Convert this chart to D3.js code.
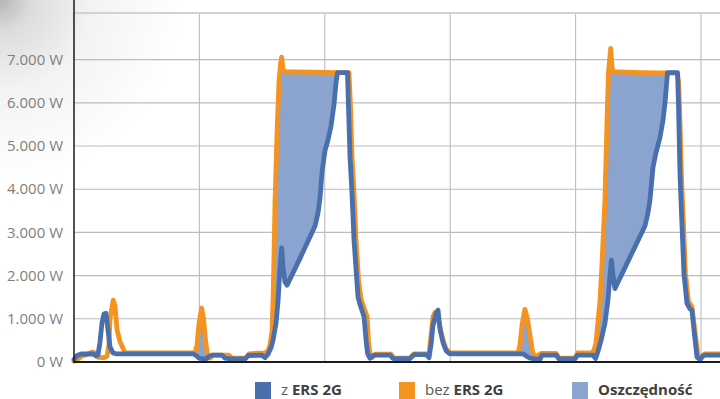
<!DOCTYPE html>
<html><head><meta charset="utf-8">
<script src="https://cdn.jsdelivr.net/npm/d3@7"></script>
<style>html,body{margin:0;padding:0;background:#fff;}svg{display:block;}</style>
</head><body>
<script>
// ---- data (time in grid units, power in W) ----
const blueT = [0.000,0.024,0.056,0.152,0.175,0.191,0.207,0.223,0.239,0.255,0.271,0.287,0.311,0.335,0.949,0.973,0.997,1.029,1.053,1.077,1.100,1.180,1.204,1.244,1.364,1.388,1.499,1.523,1.547,1.571,1.587,1.611,1.627,1.643,1.656,1.667,1.683,1.699,1.802,1.922,1.946,1.962,1.978,2.002,2.026,2.049,2.073,2.089,2.101,2.181,2.189,2.201,2.217,2.233,2.249,2.265,2.289,2.313,2.329,2.341,2.360,2.384,2.400,2.520,2.544,2.679,2.711,2.807,2.831,2.847,2.863,2.887,2.903,2.919,2.943,2.967,2.998,3.581,3.604,3.636,3.676,3.716,3.732,3.844,3.868,3.995,4.015,4.139,4.159,4.179,4.203,4.234,4.258,4.274,4.286,4.298,4.314,4.553,4.577,4.593,4.617,4.641,4.673,4.697,4.713,4.733,4.813,4.821,4.833,4.848,4.864,4.888,4.912,4.928,4.944,4.968,4.992,5.016,5.032,5.191];
const blueW = [60,150,185,190,140,170,450,900,1110,1130,750,350,210,190,190,150,90,70,70,130,160,160,90,70,70,150,160,100,180,330,500,900,1400,2200,2640,2200,1850,1780,2400,3150,3450,3800,4400,4900,5150,5450,5950,6450,6700,6700,5900,4750,3900,2820,2150,1500,1260,1050,500,200,85,140,160,160,80,80,170,170,100,400,850,1120,1200,750,450,260,190,190,140,90,70,60,160,160,70,70,160,160,80,250,500,900,1430,2000,2360,2000,1700,3150,3450,3750,4500,4850,5200,5600,6000,6700,6700,5900,4300,3200,2050,1360,1230,1200,740,115,50,140,160,160];

const orangeT = [0.000,0.032,0.056,0.088,0.128,0.152,0.175,0.191,0.239,0.263,0.279,0.287,0.313,0.327,0.343,0.367,0.391,0.407,0.965,0.981,0.997,1.018,1.033,1.049,1.065,1.085,1.108,1.236,1.260,1.372,1.396,1.523,1.547,1.563,1.579,1.589,1.603,1.619,1.635,1.647,1.656,1.667,1.683,2.081,2.193,2.205,2.217,2.233,2.249,2.269,2.289,2.313,2.337,2.348,2.360,2.376,2.400,2.528,2.552,2.679,2.711,2.815,2.831,2.847,2.863,2.879,2.895,2.919,2.943,2.967,2.998,3.541,3.557,3.573,3.596,3.616,3.636,3.656,3.676,3.700,3.724,3.844,3.868,3.995,4.015,4.131,4.147,4.163,4.195,4.211,4.234,4.250,4.262,4.280,4.290,4.298,4.514,4.809,4.821,4.829,4.844,4.860,4.876,4.900,4.928,4.952,4.976,4.992,5.016,5.032,5.191];
const orangeW = [20,60,130,160,210,230,200,110,100,130,400,1000,1430,1300,750,470,320,210,210,400,900,1250,1000,500,150,90,160,160,90,90,190,210,250,400,700,1600,3700,5300,6500,6900,7060,6780,6720,6700,6700,5900,4750,3900,2820,1900,1450,1250,1050,500,200,100,180,180,90,90,190,190,150,600,1050,1150,1100,800,500,300,210,210,400,860,1220,1000,620,250,100,150,200,200,90,90,210,210,280,450,1430,2300,3750,5500,6700,7260,6850,6720,6700,6690,6500,5900,4300,3200,2050,1400,1270,700,150,70,160,190,190];

// intervals where the savings ("Oszczędność") area is shown
const savingsRanges = [[0.94,1.09],[1.50,2.19],[3.53,3.67],[4.12,4.84]];

const yTicks = [0,1000,2000,3000,4000,5000,6000,7000];
const yLabels = ["0 W","1.000 W","2.000 W","3.000 W","4.000 W","5.000 W","6.000 W","7.000 W"];
const xGrid = [1,2,3,4,5];
const legendItems = [
  {pre:"z ", bold:"ERS 2G", color:"#4A6FAD"},
  {pre:"bez ", bold:"ERS 2G", color:"#F4931F"},
  {pre:"", bold:"Oszczędność", color:"#8AA3CF"}
];

// ---- layout ----
const W = 720, H = 399;
const m = {left:74, top:13, bottom:37};
const blueC = "#4A6FAD", orangeC = "#F4931F", fillC = "#8AA3CF";

const svg = d3.select("body").append("svg").attr("width",W).attr("height",H)
  .style("font-family","'Open Sans', sans-serif");

const defs = svg.append("defs");
const rg = defs.append("radialGradient").attr("id","bgcorner")
  .attr("cx",0).attr("cy",0).attr("r",260).attr("gradientUnits","userSpaceOnUse");
rg.append("stop").attr("offset",0).attr("stop-color","#b5b5b5");
rg.append("stop").attr("offset",0.12).attr("stop-color","#dcdcdc");
rg.append("stop").attr("offset",0.35).attr("stop-color","#f3f3f3");
rg.append("stop").attr("offset",0.7).attr("stop-color","#ffffff");
svg.append("rect").attr("width",W).attr("height",H).attr("fill","url(#bgcorner)");

const x = d3.scaleLinear().domain([0, (W - m.left)/125.4]).range([m.left, W]);
const y = d3.scaleLinear().domain([0, 8080]).range([H - m.bottom, m.top]);

// gridlines
const g = svg.append("g");
g.selectAll(".hg").data(yTicks.slice(1)).join("line")
  .attr("x1",m.left).attr("x2",W).attr("y1",d=>y(d)).attr("y2",d=>y(d))
  .attr("stroke","#bdbdbd").attr("stroke-width",1.1);
g.selectAll(".vg").data(xGrid).join("line")
  .attr("x1",d=>x(d)).attr("x2",d=>x(d)).attr("y1",y(8080)).attr("y2",y(0))
  .attr("stroke","#bdbdbd").attr("stroke-width",1.1);
g.append("line").attr("x1",m.left).attr("x2",W).attr("y1",y(8080)).attr("y2",y(8080))
  .attr("stroke","#d2d2d2").attr("stroke-width",2);

// y labels
svg.append("g").selectAll("text").data(yTicks).join("text")
  .attr("x",m.left-11).attr("y",d=>y(d)).attr("dy","0.35em")
  .attr("text-anchor","end").attr("font-size",15).attr("fill","#7f7f7f")
  .text((d,i)=>yLabels[i]);

// data series
const blue = blueT.map((t,i)=>({t, v:blueW[i]}));
const orange = orangeT.map((t,i)=>({t, v:orangeW[i]}));
function interp(series, t){
  const i = d3.bisector(d=>d.t).left(series, t);
  if (i<=0) return series[0].v;
  if (i>=series.length) return series[series.length-1].v;
  const a = series[i-1], b = series[i];
  if (b.t===a.t) return b.v;
  return a.v + (b.v-a.v)*(t-a.t)/(b.t-a.t);
}

// savings area
const area = d3.area().x(d=>x(d.t)).y0(d=>y(d.lo)).y1(d=>y(d.hi));
savingsRanges.forEach(([a,b])=>{
  const ts = Array.from(new Set([a,b,...blueT,...orangeT].filter(t=>t>=a&&t<=b))).sort((p,q)=>p-q);
  const pts = ts.map(t=>{const lo=interp(blue,t), o=interp(orange,t); return {t, lo, hi:Math.max(lo,o)};});
  svg.append("path").datum(pts).attr("d",area).attr("fill",fillC);
});

const line = d3.line().x(d=>x(d.t)).y(d=>y(d.v));
svg.append("path").datum(orange).attr("d",line).attr("fill","none")
  .attr("stroke",orangeC).attr("stroke-width",4.8).attr("stroke-linejoin","round").attr("stroke-linecap","round");
svg.append("path").datum(blue).attr("d",line).attr("fill","none")
  .attr("stroke",blueC).attr("stroke-width",4.8).attr("stroke-linejoin","round").attr("stroke-linecap","round");

// axes lines
svg.append("line").attr("x1",m.left).attr("x2",m.left).attr("y1",0).attr("y2",y(0)+1)
  .attr("stroke","#1a1a1a").attr("stroke-width",1.5);
svg.append("line").attr("x1",m.left).attr("x2",W).attr("y1",y(0)).attr("y2",y(0))
  .attr("stroke","#1a1a1a").attr("stroke-width",1.8);

// legend
const lx = [255, 399, 572];
const lg = svg.append("g");
legendItems.forEach((it,i)=>{
  lg.append("rect").attr("x",lx[i]).attr("y",382).attr("width",16).attr("height",17).attr("fill",it.color);
  const t = lg.append("text").attr("x",lx[i]+26).attr("y",395).attr("font-size",15).attr("fill","#404040");
  if (it.pre) t.append("tspan").text(it.pre).attr("fill","#595959");
  t.append("tspan").text(it.bold).attr("font-weight","bold");
});
</script>
</body></html>
